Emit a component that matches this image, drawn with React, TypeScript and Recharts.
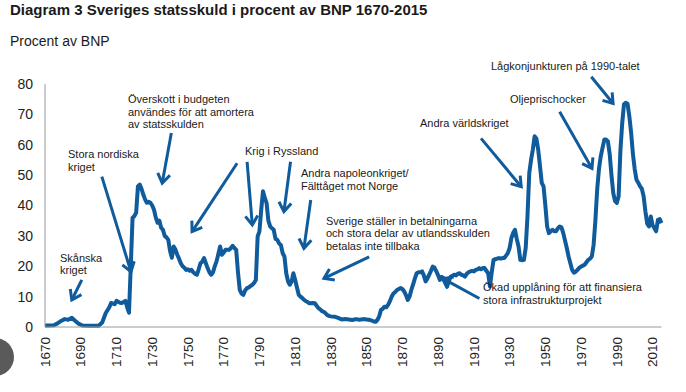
import React from "react";
import { LineChart, Line, XAxis, YAxis, ReferenceLine } from "recharts";

// Statsskuld i procent av BNP
const years = [
  1670, 1672, 1675, 1677, 1679, 1681, 1683, 1685, 1687, 1689, 1691, 1695, 1700, 1702, 1704, 1706, 1707, 1709,
  1710, 1712, 1713, 1715, 1716, 1717, 1718, 1719, 1720, 1721, 1722, 1723, 1724, 1725, 1726, 1727, 1728, 1729,
  1730, 1731, 1732, 1733, 1734, 1735, 1736, 1737, 1738, 1739, 1740, 1741, 1742, 1743, 1744, 1745, 1746, 1747,
  1748, 1749, 1750, 1751, 1752, 1753, 1754, 1755, 1756, 1757, 1758, 1759, 1760, 1761, 1762, 1763, 1764, 1765,
  1766, 1767, 1768, 1769, 1770, 1771, 1772, 1773, 1774, 1775, 1776, 1777, 1778, 1779, 1780, 1781, 1782, 1783,
  1784, 1785, 1786, 1787, 1788, 1789, 1790, 1791, 1792, 1793, 1794, 1795, 1796, 1797, 1798, 1799, 1800, 1801,
  1802, 1803, 1804, 1805, 1806, 1807, 1808, 1809, 1810, 1811, 1812, 1813, 1814, 1815, 1816, 1817, 1818, 1820,
  1821, 1822, 1823, 1824, 1825, 1826, 1827, 1828, 1829, 1830, 1832, 1834, 1836, 1838, 1840, 1842, 1844, 1846,
  1848, 1850, 1852, 1854, 1855, 1856, 1857, 1858, 1859, 1860, 1861, 1862, 1863, 1864, 1865, 1866, 1867, 1868,
  1869, 1870, 1871, 1872, 1873, 1874, 1875, 1876, 1877, 1878, 1879, 1880, 1881, 1882, 1883, 1884, 1885, 1886,
  1887, 1888, 1889, 1890, 1891, 1892, 1893, 1894, 1895, 1896, 1897, 1898, 1899, 1900, 1901, 1902, 1903, 1904,
  1905, 1906, 1907, 1908, 1909, 1910, 1911, 1912, 1913, 1914, 1915, 1916, 1917, 1918, 1919, 1920, 1921, 1922,
  1923, 1924, 1925, 1926, 1927, 1928, 1929, 1930, 1931, 1932, 1933, 1934, 1935, 1936, 1937, 1938, 1939, 1940,
  1941, 1942, 1943, 1944, 1945, 1946, 1947, 1948, 1949, 1950, 1951, 1952, 1953, 1954, 1955, 1956, 1957, 1958,
  1959, 1960, 1961, 1962, 1963, 1964, 1965, 1966, 1967, 1968, 1969, 1970, 1971, 1972, 1973, 1974, 1975, 1976,
  1977, 1978, 1979, 1980, 1981, 1982, 1983, 1984, 1985, 1986, 1987, 1988, 1989, 1990, 1991, 1992, 1993, 1994,
  1995, 1996, 1997, 1998, 1999, 2000, 2001, 2002, 2003, 2004, 2005, 2006, 2007, 2008, 2009, 2010, 2011, 2012,
  2013, 2014, 2015,
];

const debt = [
  0.5, 0.5, 0.6, 1.2, 2.0, 2.6, 2.4, 3.0, 2.0, 1.0, 0.5, 0.4, 0.4, 1.5, 4.6, 6.5, 7.9, 7.5,
  8.6, 8.0, 7.9, 8.6, 6.5, 4.7, 20, 36, 36.5, 37.6, 46.3, 46.9, 45.5, 43.6, 42, 40.9, 41.2, 40.9,
  40, 38.6, 36, 34.3, 35, 32.7, 32, 30, 29.5, 28.7, 25, 22.8, 26.5, 25.5, 23.8, 22.5, 21, 20,
  19.5, 18.8, 19, 18.5, 18.8, 18, 17.5, 17.2, 19, 21, 21.5, 22.7, 21, 19.4, 18, 17.2, 18, 20,
  21.6, 24, 26.5, 23.8, 24.5, 25.4, 25.4, 25.4, 26, 26.7, 26, 25.4, 18, 12.2, 11, 10.6, 12, 12.8,
  13, 13.5, 13.9, 14.5, 15.5, 29.8, 31.5, 38.6, 44.7, 42.5, 40.8, 35, 33.1, 32.5, 32, 29, 28.7, 27.5,
  27, 24.3, 23.2, 17.7, 15, 13.9, 15, 17.7, 15.5, 13, 10.6, 10, 9.5, 8.9, 8.5, 8.2, 7.8, 7.9,
  7.8, 7, 6.2, 5.8, 5.2, 5, 4.5, 3.9, 3.6, 3.5, 3.4, 3, 2.5, 2.6, 2.5, 2.3, 2.6, 2.4,
  2.6, 2.5, 2.3, 1.8, 1.7, 2.3, 3.5, 5.6, 6, 6.7, 6.5, 7.3, 8.5, 10, 11, 11.5, 12.2, 12.5,
  12.8, 12.5, 11.7, 10.5, 8.9, 10, 12.2, 14, 16, 17.7, 18, 18, 18.3, 17, 15, 16, 17.2, 18.5,
  19.9, 19.5, 18.3, 17, 15.5, 16.5, 16.1, 14.5, 13.3, 15, 16.6, 16.8, 17.2, 17, 17.5, 17.7, 17.2, 17,
  16.6, 17.5, 18, 18.3, 18.5, 18.3, 18.8, 19, 19.4, 19, 19.4, 19.4, 18.5, 17.7, 13.3, 18, 22.1, 22.3,
  22.5, 22.7, 22.5, 22.7, 22.7, 23.5, 24.3, 26, 29.3, 31, 32, 29, 26.5, 22.1, 22, 22.1, 26, 36.4,
  50.7, 55, 58.4, 62.8, 62, 58.4, 53, 47.4, 46.3, 40, 33.1, 30.9, 31.5, 32, 31.5, 31.5, 32.5, 33.1,
  32.8, 31, 28.5, 26, 23.2, 21, 18.8, 17.9, 18.2, 18.8, 19.5, 19.9, 20.2, 20.5, 21.3, 22.1, 22.5, 23.2,
  27, 35, 45.2, 52, 56.2, 59, 61.7, 61.7, 61.1, 57, 50, 44.1, 41.5, 40.8, 43, 58, 67, 73.3,
  73.8, 73.5, 69.4, 64, 57, 52, 48.5, 47.5, 46.3, 45.5, 43, 38, 34, 33.1, 36.4, 33.5, 32.6, 31.5,
  35.3, 35.5, 34.2,
];

const yearTicks = [1670, 1690, 1710, 1730, 1750, 1770, 1790, 1810, 1830, 1850, 1870, 1890, 1910, 1930, 1950, 1970, 1990, 2010];
const pctTicks = [0, 10, 20, 30, 40, 50, 60, 70, 80];

// pilar: start och spets i (år, procent)
const arrowStarts = [
  [1690.6, 15.5], [1701.8, 49.5], [1740.7, 63.9], [1777.5, 53.9], [1783.1, 54.4], [1807.4, 54.4],
  [1818.7, 41.8], [1851.4, 23.1], [1913.1, 9.4], [1914, 62.1], [1958, 70.9], [1975.7, 82.4],
];
const arrowTips = [
  [1685, 8.9], [1718.1, 18.2], [1735.6, 47.4], [1752.3, 31.4], [1786, 33.6], [1803.7, 38],
  [1814.9, 25.9], [1826.1, 16], [1892.5, 16], [1936.5, 46.2], [1976.1, 52.2], [1987.9, 73.6],
];

const notes = [
  { text: "Skånska\nkriget", x: 60, y: 258.5 },
  { text: "Stora nordiska\nkriget", x: 68, y: 155 },
  { text: "Överskott i budgeten\nanvändes för att amortera\nav statsskulden", x: 128, y: 100 },
  { text: "Krig i Ryssland", x: 245, y: 152 },
  { text: "Andra napoleonkriget/\nFälttåget mot Norge", x: 301, y: 174 },
  { text: "Sverige ställer in betalningarna\noch stora delar av utlandsskulden\nbetalas inte tillbaka", x: 326, y: 221.5 },
  { text: "Andra världskriget", x: 420, y: 124 },
  { text: "Oljeprischocker", x: 510, y: 100 },
  { text: "Lågkonjunkturen på 1990-talet", x: 491, y: 67 },
  { text: "Ökad upplåning för att finansiera\nstora infrastrukturprojekt", x: 483, y: 288 },
];

const BLUE = "#0f5b9b";
const FONT = '"Liberation Sans", Arial, sans-serif';

const data = years.map((year, i) => ({ year, debt: debt[i] }));

const ArrowShape = (props: any) => {
  const { x1, y1, x2, y2 } = props;
  const ang = Math.atan2(y2 - y1, x2 - x1);
  const len = 11;
  const spread = 0.6;
  const ax = x2 - len * Math.cos(ang - spread);
  const ay = y2 - len * Math.sin(ang - spread);
  const bx = x2 - len * Math.cos(ang + spread);
  const by = y2 - len * Math.sin(ang + spread);
  return (
    <g>
      <line x1={x1} y1={y1} x2={x2} y2={y2} stroke={BLUE} strokeWidth={3} />
      <polyline
        points={`${ax},${ay} ${x2},${y2} ${bx},${by}`}
        fill="none"
        stroke={BLUE}
        strokeWidth={3}
        strokeLinejoin="miter"
      />
    </g>
  );
};

const YearTick = ({ x, y, payload }: any) => (
  <text
    x={x}
    y={y}
    transform={`rotate(-90 ${x} ${y})`}
    textAnchor="end"
    dy="0.35em"
    fontSize={13.5}
    fill="#222"
    fontFamily={FONT}
  >
    {payload.value}
  </text>
);

export default function App() {
  return (
    <div
      style={{
        position: "absolute",
        left: 0,
        top: 0,
        width: 686,
        height: 392,
        background: "#fff",
        fontFamily: FONT,
        color: "#1a1a1a",
        overflow: "hidden",
      }}
    >
      <div style={{ position: "absolute", left: 10, top: 1, fontSize: 15, lineHeight: "17px", fontWeight: "bold" }}>
        Diagram 3 Sveriges statsskuld i procent av BNP 1670-2015
      </div>
      <div style={{ position: "absolute", left: 10, top: 33, fontSize: 14, lineHeight: "16px" }}>
        Procent av BNP
      </div>

      <LineChart width={686} height={392} data={data} margin={{ top: 84, right: 24.5, bottom: 25, left: 9 }}>
        <XAxis
          dataKey="year"
          type="number"
          domain={[1670, 2015]}
          ticks={yearTicks}
          interval={0}
          tick={<YearTick />}
          tickLine={false}
          tickSize={0}
          tickMargin={10}
          height={40}
          axisLine={{ stroke: "#9a9a9a", strokeWidth: 1 }}
        />
        <YAxis
          type="number"
          domain={[0, 80]}
          ticks={pctTicks}
          interval={0}
          width={36}
          tickLine={false}
          tickSize={0}
          tickMargin={12}
          tick={{ fontSize: 14, fill: "#222", fontFamily: FONT }}
          axisLine={{ stroke: "#9a9a9a", strokeWidth: 1 }}
        />
        <Line
          type="linear"
          dataKey="debt"
          stroke={BLUE}
          strokeWidth={4}
          strokeLinejoin="round"
          dot={false}
          isAnimationActive={false}
        />
        {arrowStarts.map((s, i) => (
          <ReferenceLine
            key={i}
            segment={[
              { x: s[0], y: s[1] },
              { x: arrowTips[i][0], y: arrowTips[i][1] },
            ]}
            ifOverflow="visible"
            shape={ArrowShape}
          />
        ))}
      </LineChart>

      {notes.map((n, i) => (
        <div
          key={i}
          style={{
            position: "absolute",
            left: n.x,
            top: n.y - 6.75,
            fontSize: 11,
            lineHeight: "12.5px",
            whiteSpace: "pre",
            color: "#1a1a1a",
          }}
        >
          {n.text}
        </div>
      ))}

      <div
        style={{
          position: "absolute",
          left: -24,
          top: 338,
          width: 38,
          height: 38,
          borderRadius: "50%",
          background: "#5a5a5a",
        }}
      />
    </div>
  );
}
